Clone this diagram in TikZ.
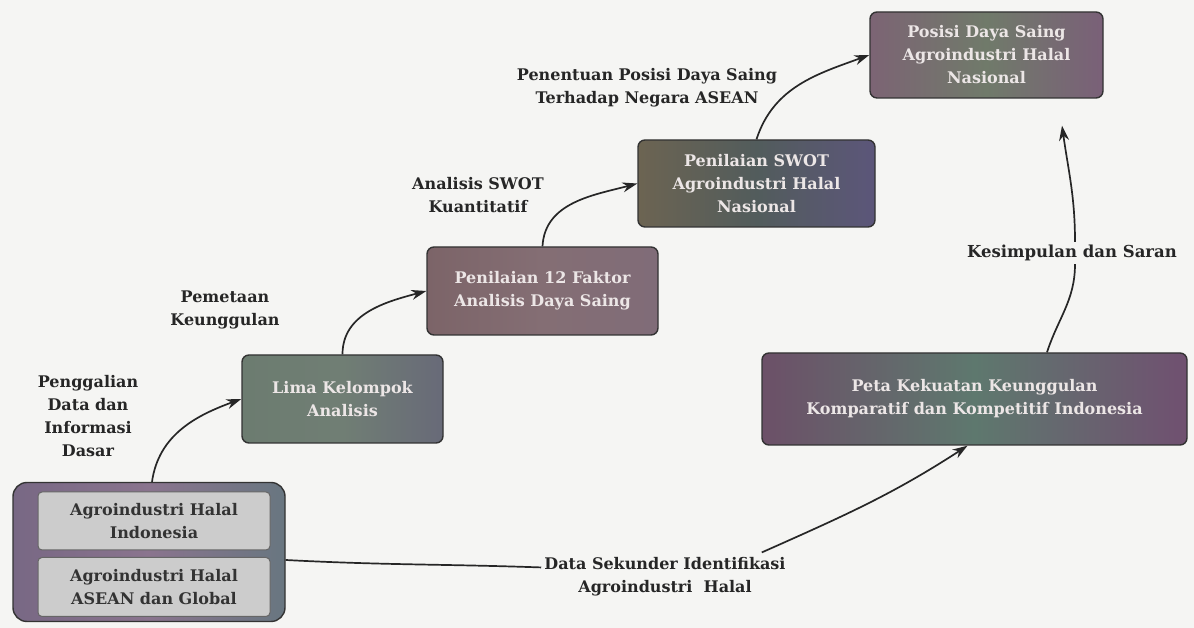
\documentclass[tikz,border=0pt]{standalone}
\usepackage{fontspec}
\setmainfont{DejaVu Serif}
\usetikzlibrary{arrows.meta,calc}
\definecolor{bgc}{HTML}{F5F5F3}
\definecolor{boxtext}{HTML}{ECE6E6}
\tikzset{
  box/.style={draw=black!80, line width=1.4pt, rounded corners=7pt, align=center,
    text=boxtext, font=\bfseries\fontsize{16}{23}\selectfont, inner sep=0pt},
  inbox/.style={draw=black!60, line width=1pt, rounded corners=4pt, align=center,
    fill=black!20, text=black!80, font=\bfseries\fontsize{16}{23}\selectfont, inner sep=0pt},
  lbl/.style={align=center, text=black!85, font=\bfseries\fontsize{16}{23}\selectfont, inner sep=1pt},
  conn/.style={draw=black!85, line width=1.7pt, -{Stealth[length=15pt,width=10pt]}},
  seg/.style={draw=black!85, line width=1.7pt}
}
\begin{document}
\begin{tikzpicture}[x=1pt,y=1pt]
\useasboundingbox (0,0) rectangle (1194,628);
\fill[bgc] (0,0) rectangle (1194,628);

% boxes
\node[box, rounded corners=14pt, minimum width=272pt, minimum height=139pt,
  left color={rgb,255:red,120;green,104;blue,132}, right color={rgb,255:red,104;green,118;blue,128},
  middle color={rgb,255:red,138;green,116;blue,142}] (src) at (149,76) {};
\node[inbox, minimum width=232pt, minimum height=58pt] (in1) at (154,107) {Agroindustri Halal\\Indonesia};
\node[inbox, minimum width=232pt, minimum height=59pt] (in2) at (154,41) {Agroindustri Halal\\ASEAN dan Global};

\node[box, minimum width=201pt, minimum height=88pt,
  left color={rgb,255:red,108;green,124;blue,112}, right color={rgb,255:red,104;green,106;blue,120},
  middle color={rgb,255:red,112;green,126;blue,116}] (lima) at (342.5,229) {Lima Kelompok\\Analisis};

\node[box, minimum width=231pt, minimum height=88pt,
  left color={rgb,255:red,124;green,100;blue,104}, right color={rgb,255:red,128;green,108;blue,120},
  middle color={rgb,255:red,132;green,110;blue,116}] (fak) at (542.5,337) {Penilaian 12 Faktor\\Analisis Daya Saing};

\node[box, minimum width=237pt, minimum height=87pt,
  left color={rgb,255:red,108;green,100;blue,82}, right color={rgb,255:red,92;green,86;blue,122},
  middle color={rgb,255:red,82;green,92;blue,92}] (swot) at (756.5,444.5) {Penilaian SWOT\\Agroindustri Halal\\Nasional};

\node[box, minimum width=233pt, minimum height=86pt,
  left color={rgb,255:red,124;green,100;blue,116}, right color={rgb,255:red,122;green,96;blue,120},
  middle color={rgb,255:red,112;green,122;blue,106}] (pos) at (986.5,573) {Posisi Daya Saing\\Agroindustri Halal\\Nasional};

\node[box, minimum width=425pt, minimum height=92pt,
  left color={rgb,255:red,108;green,80;blue,104}, right color={rgb,255:red,112;green,80;blue,112},
  middle color={rgb,255:red,94;green,120;blue,110}] (peta) at (974.5,229) {Peta Kekuatan Keunggulan\\Komparatif dan Kompetitif Indonesia};

% labels
\node[lbl] (l1) at (88,212) {Penggalian\\Data dan\\Informasi\\Dasar};
\node[lbl] (l2) at (225,318) {Pemetaan\\Keunggulan};
\node[lbl] (l3) at (478,433) {Analisis SWOT\\Kuantitatif};
\node[lbl] (l4) at (647,540.5) {Penentuan Posisi Daya Saing\\Terhadap Negara ASEAN};
\node[lbl, font=\bfseries\fontsize{16.5}{23}\selectfont] (kes) at (1072,375) {Kesimpulan dan Saran};
\node[lbl] (dsk) at (665,51) {Data Sekunder Identifikasi\\Agroindustri\ \ Halal};

\coordinate (kesTip) at ($(pos.south)+(75.5,-27)$);

% connectors
\draw[conn] ($(src.north)+(3,0)$) to[out=82,in=200] (lima.west);
\draw[conn] (lima.north) to[out=90,in=195] (fak.west);
\draw[conn] (fak.north) to[out=87,in=195] (swot.west);
\draw[conn] (swot.north) to[out=72,in=200] (pos.west);
\draw[seg] ($(peta.north)+(72.5,0)$) to[out=72,in=-90] ($(kes.south)+(3,-2)$);
\draw[conn] ($(kes.north)+(3,2)$) to[out=90,in=-82] (kesTip);
\draw[seg] ($(src.east)+(0,-8)$) to[out=-3,in=178] ($(dsk.north west)+(-2,-11)$);
\draw[conn] ($(dsk.north east)+(-25,4)$) to[out=24,in=213] ($(peta.south)+(-7,0)$);
\end{tikzpicture}
\end{document}
